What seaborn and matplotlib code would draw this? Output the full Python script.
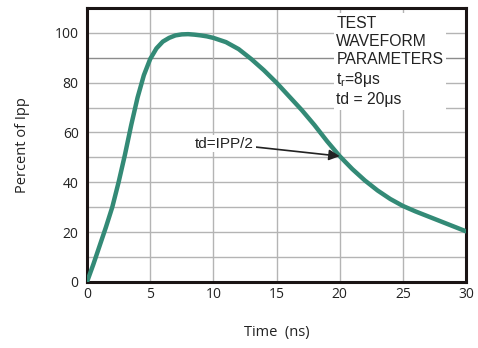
import matplotlib
matplotlib.use("Agg")
import matplotlib.pyplot as plt
import numpy as np
import pandas as pd
import seaborn as sns

# waveform
time_ns = [0, 0.5, 1, 1.5, 2, 2.5, 3, 3.5, 4, 4.5, 5, 5.5, 6, 6.5, 7, 7.5,
           8, 8.5, 9, 9.5, 10, 11, 12, 13, 14, 15, 16, 17, 18, 19, 20,
           21, 22, 23, 24, 25, 26, 27, 28, 29, 30]
percent_ipp = [0, 7, 14.5, 22, 30, 40, 51, 63, 74, 83, 89.5, 93.8, 96.5,
               98, 99, 99.4, 99.5, 99.3, 99, 98.6, 98, 96.3, 93.5, 89.5,
               85, 80, 74.5, 69, 63, 56.5, 50.5, 45.3, 40.7, 36.7, 33.3,
               30.5, 28.3, 26.3, 24.3, 22.3, 20.3]
x_ticks = [0, 5, 10, 15, 20, 25, 30]
y_ticks = [0, 20, 40, 60, 80, 100]
param_lines = ["TEST", "WAVEFORM", "PARAMETERS", r"t$_\mathrm{r}$=8μs", "td = 20μs"]

df = pd.DataFrame({"t": time_ns, "p": percent_ipp})

sns.set_theme(style="white")
plt.rcParams["font.family"] = ["Open Sans", "DejaVu Sans"]
plt.rcParams["mathtext.fontset"] = "custom"
plt.rcParams["mathtext.rm"] = "Liberation Sans"

fig = plt.figure(figsize=(4.78, 3.48), dpi=100)
ax = fig.add_axes([0.182, 0.19, 0.793, 0.787])

for yv in range(10, 110, 10):
    ax.axhline(yv, color="#8c8c8c" if yv == 90 else "#b4b4b4", lw=1.0, zorder=0)
for xv in range(5, 30, 5):
    ax.axvline(xv, color="#b4b4b4", lw=1.0, zorder=0)

sns.lineplot(data=df, x="t", y="p", ax=ax, color="#338a76", lw=3.2, zorder=3,
             solid_joinstyle="round", solid_capstyle="round")

ax.set_xlim(0, 30)
ax.set_ylim(0, 110)
ax.set_xticks(x_ticks)
ax.set_yticks(y_ticks)
ax.tick_params(axis="y", length=0, labelsize=10, colors="#222222", pad=6)
ax.tick_params(axis="x", length=0, labelsize=10, colors="#222222", pad=4)
for s in ax.spines.values():
    s.set_linewidth(2.2)
    s.set_color("#1a1414")

ax.set_xlabel("Time  (ns)", fontsize=10.5, labelpad=16, color="#222222")
ax.set_ylabel("Percent of Ipp", fontsize=10.5, labelpad=18, color="#222222")

# parameter box (white background hides the grid)
ax.text(0.658, 0.972, "\n".join(param_lines), transform=ax.transAxes,
        ha="left", va="top", fontsize=11.3, family="Liberation Sans",
        linespacing=1.25, color="#222222", zorder=4,
        bbox=dict(facecolor="white", edgecolor="none", pad=2))

ax.annotate("td=IPP/2", xy=(20, 50.5), xytext=(10.9, 55.5),
            ha="center", va="center", fontsize=11, family="Liberation Sans",
            color="#222222", zorder=4,
            bbox=dict(facecolor="white", edgecolor="none", pad=1),
            arrowprops=dict(arrowstyle="-|>", color="#222222", lw=1.2,
                            mutation_scale=16, shrinkA=0, shrinkB=0))

fig.savefig("out.png", dpi=100)
